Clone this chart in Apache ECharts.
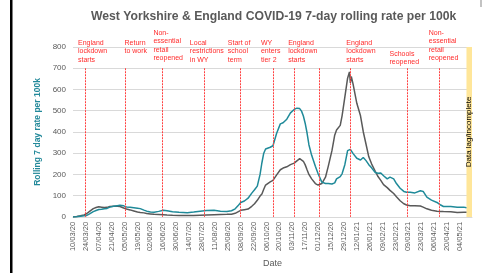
<!DOCTYPE html>
<html>
<head>
<meta charset="utf-8">
<script src="https://cdn.jsdelivr.net/npm/echarts@6/dist/echarts.min.js"></script>
<style>
  html, body { margin: 0; padding: 0; background: #fff; }
  #main { width: 497px; height: 273px; }
</style>
</head>
<body>
<div id="main"></div>
<script>
// x positions are days since 10/03/20
var tickLabels = ['10/03/20', '24/03/20', '07/04/20', '21/04/20', '05/05/20', '19/05/20', '02/06/20',
  '16/06/20', '30/06/20', '14/07/20', '28/07/20', '11/08/20', '25/08/20', '08/09/20', '22/09/20',
  '06/10/20', '20/10/20', '03/11/20', '17/11/20', '01/12/20', '15/12/20', '29/12/20', '12/01/21',
  '26/01/21', '09/02/21', '23/02/21', '09/03/21', '23/03/21', '06/04/21', '20/04/21', '04/05/21'];

var days = [0, 4, 8, 12, 15, 18, 22, 25, 28, 31, 34, 37, 40, 44, 48, 51, 53, 55, 58, 62, 66, 70, 73, 77,
  80, 84, 88, 93, 98, 102, 108, 115, 124, 131, 138, 145, 153, 160, 167, 172, 176, 179, 182, 186, 190,
  194, 197, 200, 203, 205, 207, 209, 211, 214, 217, 221, 225, 228, 232, 236, 240, 243, 246, 248, 250,
  252, 254, 256, 259, 263, 266, 270, 274, 277, 281, 283, 284, 286, 288, 290, 292, 295, 298, 300, 301,
  302, 304, 308, 312, 315, 318, 321, 324, 328, 331, 334, 337, 341, 344, 348, 351, 355, 359, 362, 366,
  371, 377, 380, 384, 389, 395, 399, 402, 410, 417, 424, 427];

var westYorkshire = [0, 1, 3, 5, 7, 14, 25, 30, 35, 36, 38, 40, 46, 50, 53, 55, 57, 52, 47, 45, 43, 41, 39, 32,
  27, 23, 22, 26, 31, 29, 24, 22, 20, 23, 27, 30, 31, 27, 26, 29, 38, 52, 68, 75, 88,
  112, 128, 145, 200, 255, 300, 320, 326, 328, 335, 394, 438, 443, 460, 490, 506, 512, 510, 498, 475,
  440, 395, 340, 290, 238, 203, 164, 157, 157, 155, 150, 160, 179, 186, 190, 203, 246, 312, 320, 318,
  313, 298, 276, 268, 280, 265, 246, 231, 209, 206, 207, 194, 179, 187, 179, 157, 135, 120, 116, 116,
  113, 123, 120, 93, 79, 68, 56, 49, 49, 46, 46, 43];

var england = [0, 2, 5, 9, 16, 26, 39, 44, 48, 46, 44, 45, 49, 50, 50, 49, 47, 42, 37, 33, 28, 23, 21, 19,
  16, 14, 12, 11, 10, 9, 8, 7, 7, 7, 8, 9, 10, 11, 12, 13, 17, 24, 31, 34, 37,
  50, 62, 78, 98, 108, 130, 150, 158, 165, 172, 198, 222, 230, 236, 246, 253, 264, 274, 272, 262,
  245, 222, 200, 179, 157, 150, 157, 187, 238, 312, 360, 385, 409, 401, 431, 476, 564, 653, 683, 631,
  661, 624, 535, 476, 401, 342, 283, 250, 215, 190, 172, 152, 138, 125, 110, 95, 76, 62, 56, 53,
  53, 51, 46, 38, 31, 27, 26, 25, 24, 21, 22, 22];

var eventDays = [13, 57, 97, 142, 181, 217, 240, 267, 301, 363, 398];
var eventLabels = ['England\nlockdown\nstarts', 'Return\nto work', 'Non-\nessential\nretail\nreopened',
  'Local\nrestrictions\nin WY', 'Start of\nschool\nterm', 'WY\nenters\ntier 2', 'England\nlockdown\nstarts',
  '', 'England\nlockdown\nstarts', 'Schools\nreopened', 'Non-\nessential\nretail\nreopened'];
// label placement (pixel shift from the line, top of text)
var labelShift = [-7, -1, -9, -14, -12, -12, -6, 0, -4, -18, -11];
var labelTop = [39, 39, 29, 39, 39, 39, 39, 0, 39, 50, 29];

var lagStart = 427;
var lagEnd = 433;

function pairs(xs, ys) {
  return xs.map(function (x, i) { return [x, ys[i]]; });
}

var chart = echarts.init(document.getElementById('main'));

chart.setOption({
  animation: false,
  title: {
    text: 'West Yorkshire & England COVID-19 7-day rolling rate per 100k',
    left: 86,
    top: 6,
    textStyle: { fontFamily: 'Liberation Sans', fontSize: 12.2, fontWeight: 'bold', color: '#595959' }
  },
  grid: { left: 73, right: 25, top: 47, bottom: 46 },
  xAxis: {
    type: 'value',
    min: 0,
    max: lagEnd,
    interval: 14,
    name: 'Date',
    nameLocation: 'middle',
    nameGap: 38,
    nameTextStyle: { fontFamily: 'Liberation Sans', fontSize: 9, color: '#595959' },
    axisLine: { lineStyle: { color: '#d9d9d9' } },
    axisTick: { show: false },
    splitLine: { show: false },
    axisLabel: {
      rotate: 90,
      margin: 5,
      showMaxLabel: false,
      fontFamily: 'Liberation Sans',
      fontSize: 7.5,
      color: '#595959',
      formatter: function (v) { return tickLabels[v / 14] || ''; }
    }
  },
  yAxis: {
    type: 'value',
    min: 0,
    max: 800,
    interval: 100,
    name: 'Rolling 7 day rate per 100k',
    nameLocation: 'middle',
    nameGap: 22,
    nameTextStyle: { fontFamily: 'Liberation Sans', fontSize: 8.5, fontWeight: 'bold', color: '#23899a' },
    axisLine: { show: false },
    axisTick: { show: false },
    splitLine: { lineStyle: { color: '#d9d9d9' } },
    axisLabel: { fontFamily: 'Liberation Sans', fontSize: 8, color: '#595959', margin: 7 }
  },
  series: [
    {
      name: 'England',
      type: 'line',
      data: pairs(days, england),
      showSymbol: false,
      lineStyle: { color: '#595959', width: 1.5 },
      markArea: {
        silent: true,
        itemStyle: { color: '#ffe699' },
        data: [[{ xAxis: lagStart }, { xAxis: lagEnd }]]
      },
      markLine: {
        silent: true,
        symbol: 'none',
        label: { show: false },
        lineStyle: { color: '#ff4040', width: 1, type: [2, 1] },
        data: eventDays.map(function (d) { return [{ coord: [d, 700] }, { coord: [d, 0] }]; })
      }
    },
    {
      name: 'West Yorkshire',
      type: 'line',
      data: pairs(days, westYorkshire),
      showSymbol: false,
      lineStyle: { color: '#1f8a99', width: 1.5 }
    }
  ]
});

var gfx = [];
eventDays.forEach(function (d, i) {
  if (!eventLabels[i]) return;
  var x = chart.convertToPixel({ xAxisIndex: 0 }, d) + labelShift[i];
  gfx.push({
    type: 'text',
    z: 100,
    x: x,
    y: labelTop[i],
    style: { text: eventLabels[i], fill: '#ff2b2b', font: '7px Liberation Sans', lineHeight: 8.3 }
  });
});
var lagX = chart.convertToPixel({ xAxisIndex: 0 }, (lagStart + lagEnd) / 2);
var midY = chart.convertToPixel({ yAxisIndex: 0 }, 400);
gfx.push({
  type: 'text',
  z: 100,
  x: lagX,
  y: midY,
  rotation: Math.PI / 2,
  style: { text: 'Data lag/incomplete', fill: '#000', font: '8px Liberation Sans', align: 'center', verticalAlign: 'middle' }
});
// frame edges of the original screenshot
gfx.push({ type: 'rect', z: 100, shape: { x: 10, y: 0, width: 2.5, height: 273 }, style: { fill: '#000' } });
gfx.push({ type: 'rect', z: 100, shape: { x: 480.5, y: 0, width: 1, height: 7 }, style: { fill: '#888' } });
chart.setOption({ graphic: gfx });
</script>
</body>
</html>
